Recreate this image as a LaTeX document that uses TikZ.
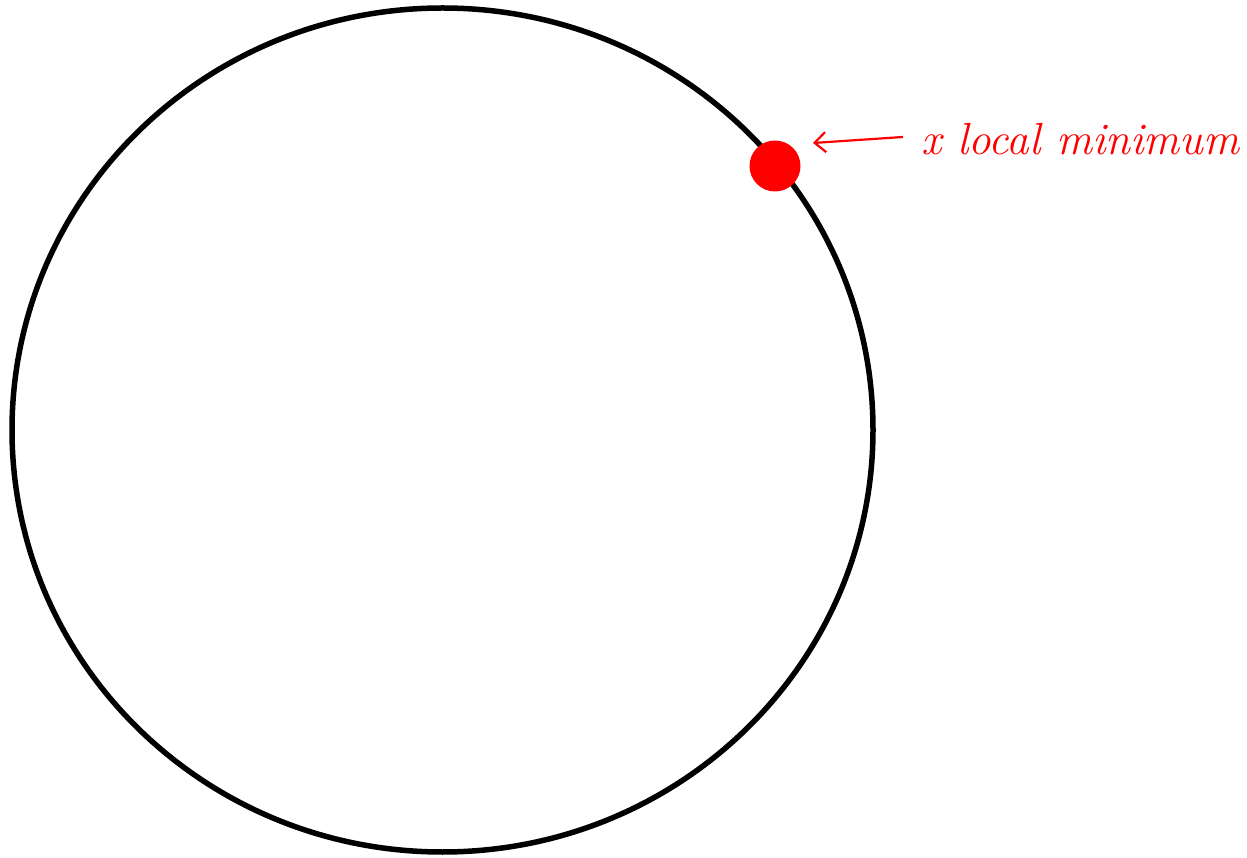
\documentclass[tikz,border=0pt]{standalone}
\usepackage{fontspec}
\usetikzlibrary{arrows.meta}
\tikzset{
  ring/.style={line width=5.5pt, draw=black},
  reddot/.style={circle, fill=red, minimum size=51pt, inner sep=0pt},
  arr/.style={draw=red, line width=2.2pt, -{Straight Barb[length=11pt,width=20pt,line width=2.2pt]}},
  lbltext/.style={text=red, inner sep=0pt, font=\fontsize{45}{54}\selectfont\itshape}
}
\begin{document}
\begin{tikzpicture}[x=1pt,y=1pt]
\useasboundingbox (0,0) rectangle (1247,857);
\draw[ring] (442.5,427) ellipse [x radius=430.5, y radius=422];
\node[reddot] (dot) at (775,691) {};
\node[lbltext, anchor=base west] (lbl) at (921,702) {x local minimum};
\coordinate (tailend) at (903,720);
\coordinate (tip) at (813,714);
\draw[arr] (tailend) -- (tip);
\end{tikzpicture}
\end{document}
